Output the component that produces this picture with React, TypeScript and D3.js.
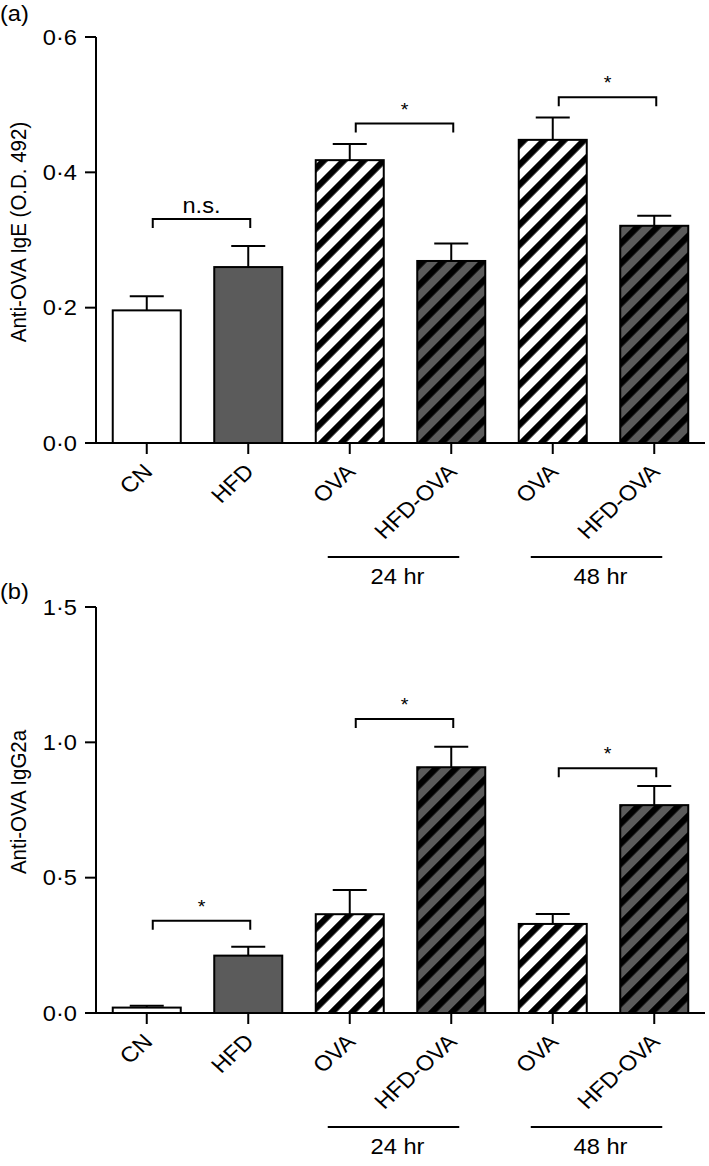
import React from "react";
import * as d3 from "d3";

const categories = ["CN", "HFD", "OVA", "HFD-OVA", "OVA", "HFD-OVA"];

const igeMean = [0.196, 0.26, 0.418, 0.269, 0.448, 0.321];
const igeErr = [0.021, 0.031, 0.024, 0.026, 0.033, 0.015];

const igg2aMean = [0.02, 0.212, 0.365, 0.908, 0.329, 0.768];
const igg2aErr = [0.007, 0.033, 0.089, 0.076, 0.037, 0.071];

const igeTicks = [0, 0.2, 0.4, 0.6];
const igg2aTicks = [0, 0.5, 1.0, 1.5];

const igeBrackets = [
  { from: 0, to: 1, y: 0.331, label: "n.s." },
  { from: 2, to: 3, y: 0.472, label: "*" },
  { from: 4, to: 5, y: 0.511, label: "*" },
];
const igg2aBrackets = [
  { from: 0, to: 1, y: 0.341, label: "*" },
  { from: 2, to: 3, y: 1.086, label: "*" },
  { from: 4, to: 5, y: 0.904, label: "*" },
];

const groups = [
  { from: 2, to: 3, label: "24 hr" },
  { from: 4, to: 5, label: "48 hr" },
];

const FONT = "'Liberation Sans', Arial, Helvetica, sans-serif";
const GRAY = "#5b5b5b";
const SX = 1.1;
const FS = 21.5;

const fmt = (v: number) => d3.format(".1f")(v).replace(".", "\u00b7");

function fillFor(cat: string) {
  const gray = cat.includes("HFD");
  const hatch = cat.includes("OVA");
  if (hatch) return gray ? "url(#hatchGray)" : "url(#hatchWhite)";
  return gray ? GRAY : "#ffffff";
}

function T({
  x,
  y,
  rot = 0,
  anchor = "start",
  dy,
  size = FS,
  children,
}: {
  x: number;
  y: number;
  rot?: number;
  anchor?: string;
  dy?: string;
  size?: number;
  children: React.ReactNode;
}) {
  return (
    <text
      transform={`translate(${x},${y}) scale(${SX},1)${rot ? ` rotate(${rot})` : ""}`}
      textAnchor={anchor}
      dy={dy}
      fontSize={size}
    >
      {children}
    </text>
  );
}

type Bracket = { from: number; to: number; y: number; label: string };

function Panel({
  tag,
  tagY,
  yLabel,
  means,
  errs,
  ticks,
  brackets,
  yRange,
}: {
  tag: string;
  tagY: number;
  yLabel: string;
  means: number[];
  errs: number[];
  ticks: number[];
  brackets: Bracket[];
  yRange: [number, number];
}) {
  const x = d3
    .scaleBand<number>()
    .domain(categories.map((_, i) => i))
    .range([96, 705])
    .paddingInner(0.33)
    .paddingOuter(0.165);
  const y = d3
    .scaleLinear()
    .domain([ticks[0], ticks[ticks.length - 1]])
    .range(yRange);
  const bw = x.bandwidth();
  const cx = (i: number) => (x(i) as number) + bw / 2;
  const y0 = y(0);
  const yTop = y(ticks[ticks.length - 1]);
  const axisX = 96;

  return (
    <g fontFamily={FONT} fill="#000">
      <T x={0} y={tagY}>
        {tag}
      </T>
      <T x={26} y={(y0 + yTop) / 2 - 8} rot={-90} anchor="middle" size={20.5}>
        {yLabel}
      </T>
      {means.map((m, i) => (
        <g key={i}>
          <line
            x1={cx(i)}
            x2={cx(i)}
            y1={y(m)}
            y2={y(m + errs[i])}
            stroke="#000"
            strokeWidth={2}
          />
          <line
            x1={cx(i) - bw / 4}
            x2={cx(i) + bw / 4}
            y1={y(m + errs[i])}
            y2={y(m + errs[i])}
            stroke="#000"
            strokeWidth={2}
          />
          <rect
            x={x(i)}
            y={y(m)}
            width={bw}
            height={y0 - y(m)}
            fill={fillFor(categories[i])}
            stroke="#000"
            strokeWidth={2}
          />
        </g>
      ))}
      <line x1={axisX} x2={axisX} y1={yTop} y2={y0} stroke="#000" strokeWidth={2} />
      {ticks.map((t) => (
        <g key={t}>
          <line x1={axisX - 11} x2={axisX} y1={y(t)} y2={y(t)} stroke="#000" strokeWidth={2} />
          <T x={77} y={y(t)} dy="0.36em" anchor="end">
            {fmt(t)}
          </T>
        </g>
      ))}
      <line x1={axisX} x2={705} y1={y0} y2={y0} stroke="#000" strokeWidth={2} />
      {categories.map((c, i) => (
        <g key={i}>
          <line x1={cx(i)} x2={cx(i)} y1={y0} y2={y0 + 11} stroke="#000" strokeWidth={2} />
          <T x={cx(i) + 7} y={y0 + 30} rot={-45} anchor="end">
            {c}
          </T>
        </g>
      ))}
      {brackets.map((b, k) => {
        const x1 = cx(b.from) + 6;
        const x2 = cx(b.to) + 2;
        const yy = y(b.y);
        const star = b.label === "*";
        return (
          <g key={k}>
            <path
              d={`M${x1},${yy + 9}V${yy}H${x2}V${yy + 9}`}
              fill="none"
              stroke="#000"
              strokeWidth={2}
            />
            <T
              x={(x1 + x2) / 2}
              y={star ? yy - 8 : yy - 6}
              anchor="middle"
              size={star ? 18 : FS}
            >
              {b.label}
            </T>
          </g>
        );
      })}
      {groups.map((g, k) => {
        const x1 = cx(g.from) - 22;
        const x2 = cx(g.to) + 8;
        return (
          <g key={k}>
            <line x1={x1} x2={x2} y1={y0 + 114} y2={y0 + 114} stroke="#000" strokeWidth={2} />
            <T x={(x1 + x2) / 2 + 4} y={y0 + 141} anchor="middle">
              {g.label}
            </T>
          </g>
        );
      })}
    </g>
  );
}

export default function App() {
  return (
    <svg
      width={709}
      height={1166}
      style={{ position: "absolute", left: 0, top: 0, background: "#fff" }}
    >
      <defs>
        <pattern
          id="hatchWhite"
          patternUnits="userSpaceOnUse"
          width={14.14}
          height={14.14}
          patternTransform="rotate(45)"
        >
          <rect width={14.14} height={14.14} fill="#fff" />
          <rect width={6.3} height={14.14} fill="#000" />
        </pattern>
        <pattern
          id="hatchGray"
          patternUnits="userSpaceOnUse"
          width={14.14}
          height={14.14}
          patternTransform="rotate(45)"
        >
          <rect width={14.14} height={14.14} fill={GRAY} />
          <rect width={6.3} height={14.14} fill="#000" />
        </pattern>
      </defs>
      <rect width={709} height={1166} fill="#fff" />
      <Panel
        tag="(a)"
        tagY={21}
        yLabel="Anti-OVA IgE (O.D. 492)"
        means={igeMean}
        errs={igeErr}
        ticks={igeTicks}
        brackets={igeBrackets}
        yRange={[443, 37]}
      />
      <Panel
        tag="(b)"
        tagY={599}
        yLabel="Anti-OVA IgG2a"
        means={igg2aMean}
        errs={igg2aErr}
        ticks={igg2aTicks}
        brackets={igg2aBrackets}
        yRange={[1013, 607]}
      />
    </svg>
  );
}
